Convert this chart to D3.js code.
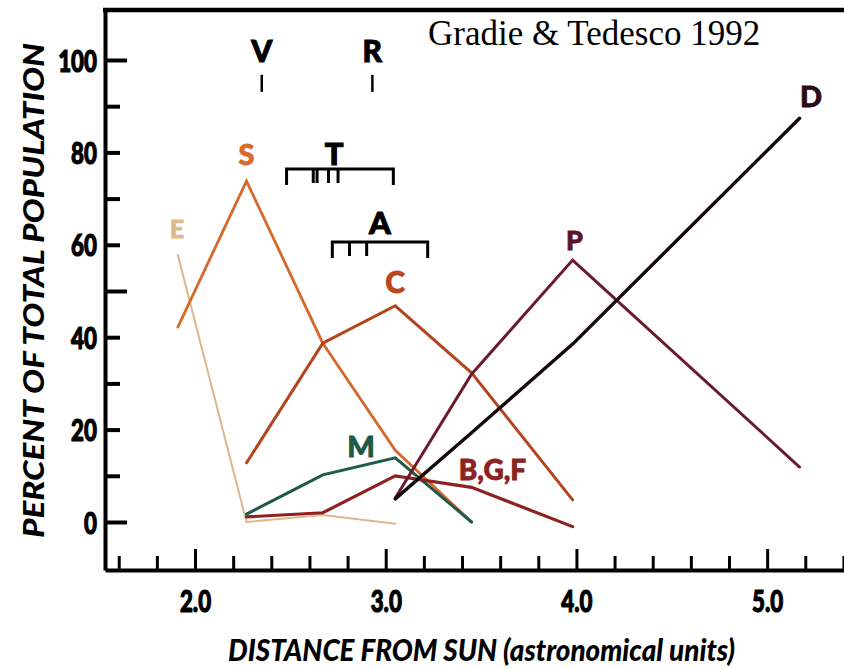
<!DOCTYPE html>
<html><head><meta charset="utf-8">
<script src="https://cdn.jsdelivr.net/npm/d3@7"></script>
<style>body{margin:0;background:#fff} svg{display:block;background:#fff}</style>
</head><body><svg id="c" width="844" height="669"></svg>
<script>
// ---- data ----
const distBins = [1.91, 2.27, 2.67, 3.05, 3.45, 3.98, 5.17];
const seriesNames = ["E", "S", "C", "M", "B,G,F", "P", "D"];
const valE   = [57.8, 0.0, 1.5, -0.4, null, null, null];
const valS   = [42.2, 73.8, 38.7, 15.5, 0.0, null, null];
const valC   = [null, 12.8, 38.7, 46.8, 32.3, 4.8, null];
const valM   = [null, 1.7, 10.2, 13.9, 0.0, null, null];
const valBGF = [null, 1.1, 2.0, 10.0, 7.5, -1.0, null];
const valP   = [null, null, null, 5.2, 32.0, 56.7, 11.9];
const valD   = [null, null, null, 5.0, 19.3, 38.5, 87.4];
const xTickValues = [1.6,1.8,2.0,2.2,2.4,2.6,2.8,3.0,3.2,3.4,3.6,3.8,4.0,4.2,4.4,4.6,4.8,5.0,5.2,5.4];
const xTickLabels = ["2.0", "3.0", "4.0", "5.0"];
const yTickValues = [0,10,20,30,40,50,60,70,80,90,100];
const yTickLabels = ["0", "20", "40", "60", "80", "100"];
// taxonomic-class range markers (AU)
const pointMarkers = [{label: "V", a: 2.35}, {label: "R", a: 2.93}];
const rangeT = [2.48, 3.04]; const ticksT = [2.62, 2.64, 2.70, 2.75];
const rangeA = [2.72, 3.22]; const ticksA = [2.81, 2.90];
// label anchors (AU, percent)
const labelPos = {
  "E": [1.905, 61.5], "S": [2.27, 77.3], "C": [3.05, 49.6], "M": [2.87, 14.1],
  "B,G,F": [3.56, 9.1], "P": [3.99, 58.9], "D": [5.23, 89.8]
};

const allVals = [valE, valS, valC, valM, valBGF, valP, valD];
const colors = {"E":"#dcb88c","S":"#d4692c","C":"#b2451d","M":"#1e5a48","B,G,F":"#8c2222","P":"#6b1c2c","D":"#140808"};
const widths = {"E":2,"S":2.8,"C":3,"M":3,"B,G,F":3.2,"P":3,"D":3.4};
const labelColors = {"E":"#e0b98a","S":"#d86a2a","C":"#b8481c","M":"#1e5a48","B,G,F":"#8c2222","P":"#5e1428","D":"#2a0a14"};
const labelSize = {"E":25,"S":29,"C":30,"M":29,"B,G,F":28,"P":27,"D":29};

// ---- layout ----
const L = 105, R = 844, T = 10, B = 570;
const svg = d3.select("#c");
const x = d3.scaleLinear().domain([1.528, 5.403]).range([L, R]);
const y = d3.scaleLinear().domain([-10.39, 110.82]).range([B, T]);
const labFont = "Lato, 'DejaVu Sans', sans-serif";

// series lines
const line = d3.line().defined(d => d[1] !== null).x(d => x(d[0])).y(d => y(d[1]));
seriesNames.forEach((name, i) => {
  const pts = distBins.map((b, j) => [b, allVals[i][j]]);
  svg.append("path").attr("d", line(pts)).attr("fill", "none")
    .attr("stroke", colors[name]).attr("stroke-width", widths[name])
    .attr("stroke-linejoin", "miter").attr("stroke-linecap", "round");
});

// series labels
seriesNames.forEach(name => {
  const p = labelPos[name];
  svg.append("text").attr("x", x(p[0])).attr("y", y(p[1]))
    .attr("text-anchor", "middle").attr("font-family", labFont).attr("font-weight", 900)
    .attr("font-size", labelSize[name]).attr("fill", labelColors[name])
    .attr("stroke", labelColors[name]).attr("stroke-width", 0.8).text(name);
});

// axes
const yAxis = d3.axisLeft(y).tickValues(yTickValues).tickSizeInner(-15).tickSizeOuter(0).tickPadding(9)
  .tickFormat(d => yTickLabels.includes(String(d)) ? String(d) : "");
const gy = svg.append("g").attr("transform", `translate(${L},0)`).call(yAxis);
gy.select(".domain").attr("stroke", "#000").attr("stroke-width", 4);
gy.selectAll(".tick line").attr("stroke", "#000").attr("stroke-width", 4)
  .attr("x2", d => (d % 50 === 0) ? 22 : 15);
gy.selectAll(".tick text").attr("font-family", labFont).attr("font-weight", 900).attr("font-size", 31)
  .attr("fill", "#000").attr("stroke", "#000").attr("stroke-width", 1.2).attr("x", null).attr("dy", "0.36em")
  .attr("transform", "translate(-8,0) scale(0.72,1)");

const xAxis = d3.axisBottom(x).tickValues(xTickValues).tickSizeInner(-14).tickSizeOuter(0).tickPadding(0)
  .tickFormat(d => { const s = d3.format(".1f")(d); return xTickLabels.includes(s) ? s : ""; });
const gx = svg.append("g").attr("transform", `translate(0,${B})`).call(xAxis);
gx.select(".domain").attr("stroke", "#000").attr("stroke-width", 4);
gx.selectAll(".tick line").attr("stroke", "#000").attr("stroke-width", 3)
  .attr("y2", d => xTickLabels.includes(d3.format(".1f")(d)) ? -21 : -14);
gx.selectAll(".tick text").attr("font-family", labFont).attr("font-weight", 900).attr("font-size", 31)
  .attr("fill", "#000").attr("stroke", "#000").attr("stroke-width", 1.2).attr("y", null).attr("dy", null)
  .attr("transform", "translate(0,42) scale(0.72,1)");

// top border
svg.append("line").attr("x1", L - 2).attr("x2", R).attr("y1", T).attr("y2", T)
  .attr("stroke", "#000").attr("stroke-width", 4.5);

// V, R markers
pointMarkers.forEach(m => {
  svg.append("line").attr("x1", x(m.a)).attr("x2", x(m.a)).attr("y1", y(96.8)).attr("y2", y(93.1))
    .attr("stroke", "#000").attr("stroke-width", 2.5);
  svg.append("text").attr("x", x(m.a)).attr("y", y(99.6)).attr("text-anchor", "middle")
    .attr("font-family", labFont).attr("font-weight", 900).attr("font-size", 30).attr("fill", "#000")
    .attr("stroke", "#000").attr("stroke-width", 1).text(m.label);
});

// brackets
function bracket(range, ticks, yv, label, labelX, labelY) {
  const g = svg.append("g").attr("stroke", "#000").attr("stroke-width", 3).attr("fill", "none");
  const y0 = y(yv), y1 = y0 + 16;
  g.append("path").attr("d", `M${x(range[0])},${y1}V${y0}H${x(range[1])}V${y1}`);
  ticks.forEach(t => g.append("line").attr("x1", x(t)).attr("x2", x(t)).attr("y1", y0).attr("y2", y0 + 14));
  svg.append("text").attr("x", x(labelX)).attr("y", y(labelY)).attr("text-anchor", "middle")
    .attr("font-family", labFont).attr("font-weight", 900).attr("font-size", 31).attr("fill", "#000")
    .attr("stroke", "#000").attr("stroke-width", 1).text(label);
}
bracket(rangeT, ticksT, 76.4, "T", 2.73, 77.3);
bracket(rangeA, ticksA, 60.6, "A", 2.97, 62.3);

// title
svg.append("text").attr("x", 428).attr("y", 45).attr("font-family", "'Liberation Serif', 'Times New Roman', serif")
  .attr("font-size", 35).attr("fill", "#000").text("Gradie & Tedesco 1992");

// axis titles
svg.append("text").attr("x", 228).attr("y", 661).attr("font-family", labFont).attr("font-weight", 900)
  .attr("font-style", "italic").attr("font-size", 31).attr("fill", "#000")
  .attr("textLength", 507).attr("lengthAdjust", "spacingAndGlyphs")
  .text("DISTANCE FROM SUN (astronomical units)");
svg.append("text").attr("transform", "translate(44,538) rotate(-90)").attr("x", 0).attr("y", 0)
  .attr("font-family", labFont).attr("font-weight", 900).attr("font-style", "italic")
  .attr("font-size", 29).attr("fill", "#000")
  .attr("textLength", 495).attr("lengthAdjust", "spacingAndGlyphs")
  .text("PERCENT OF TOTAL POPULATION");
</script></body></html>
